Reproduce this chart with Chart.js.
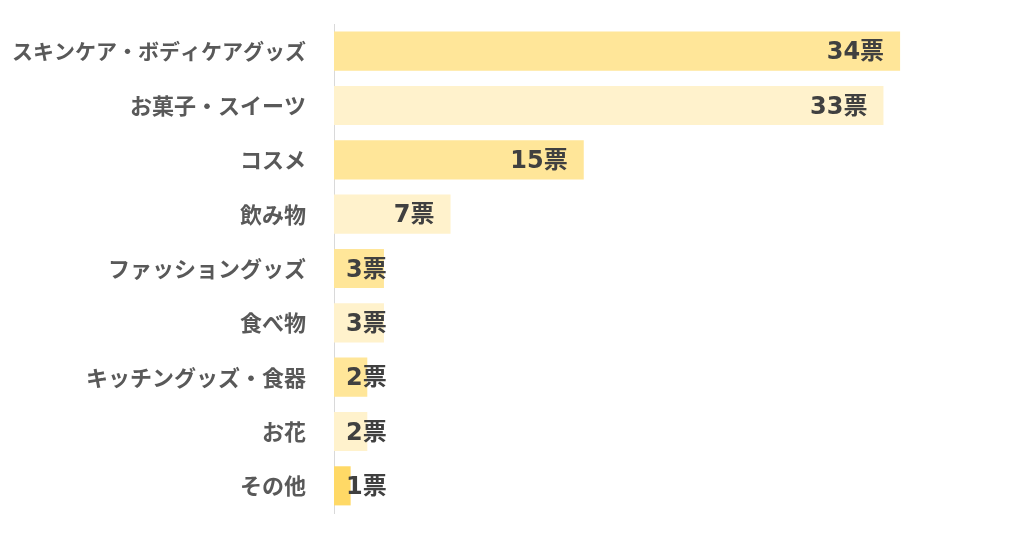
<!DOCTYPE html>
<html><head><meta charset="utf-8">
<script src="https://cdn.jsdelivr.net/npm/chart.js@4/dist/chart.umd.min.js"></script>
<style>html,body{margin:0;padding:0;background:#fff;}#wrap{width:1024px;height:538px;}</style>
</head><body><div id="wrap"><canvas id="c" width="1024" height="538"></canvas></div>
<script>
const categories = ["スキンケア・ボディケアグッズ","お菓子・スイーツ","コスメ","飲み物","ファッショングッズ","食べ物","キッチングッズ・食器","お花","その他"];
const votes = [34,33,15,7,3,3,2,2,1];
const valueLabels = ["34票","33票","15票","7票","3票","3票","2票","2票","1票"];
const barColors = ["#FFE699","#FFF2CC","#FFE699","#FFF2CC","#FFE699","#FFF2CC","#FFE699","#FFF2CC","#FFD966"];
const FONT = "'Noto Sans CJK JP','Noto Sans',sans-serif";
const VFONT = "'DejaVu Sans','Noto Sans CJK JP',sans-serif";

const labelPlugin = {
  id:'valLabels',
  afterDatasetsDraw(chart){
    const ctx = chart.ctx;
    const meta = chart.getDatasetMeta(0);
    const left = chart.chartArea.left;
    ctx.save();
    ctx.font = "bold 24px " + VFONT;
    ctx.fillStyle = "#404040";
    ctx.textBaseline = "middle";
    ctx.textAlign = "left";
    meta.data.forEach((bar,i)=>{
      const txt = valueLabels[i];
      const w = ctx.measureText(txt).width;
      let x = bar.x - 16 - w;
      if (x < left + 12) x = left + 12;
      ctx.fillText(txt, x, bar.y + 2);
    });
    ctx.restore();
  }
};

new Chart(document.getElementById('c'), {
  type:'bar',
  data:{labels:categories, datasets:[{data:votes, backgroundColor:barColors, borderWidth:0, categoryPercentage:1, barPercentage:0.72}]},
  options:{
    indexAxis:'y', responsive:false, animation:false, devicePixelRatio:1,
    layout:{padding:{top:24,bottom:25,right:24,left:0}},
    plugins:{legend:{display:false}, tooltip:{enabled:false}},
    scales:{
      x:{display:false, min:0, max:40},
      y:{
        grid:{display:true, drawOnChartArea:false, drawTicks:true, tickLength:28, color:'rgba(0,0,0,0)'},
        border:{display:true, color:'#D9D9D9', width:1},
        ticks:{color:'#595959', padding:0, font:(c)=>({family:FONT, size:(c.index===0?21:22), weight:'bold'})},
        afterFit(s){ s.width = 334; }
      }
    }
  },
  plugins:[labelPlugin]
});
</script></body></html>
